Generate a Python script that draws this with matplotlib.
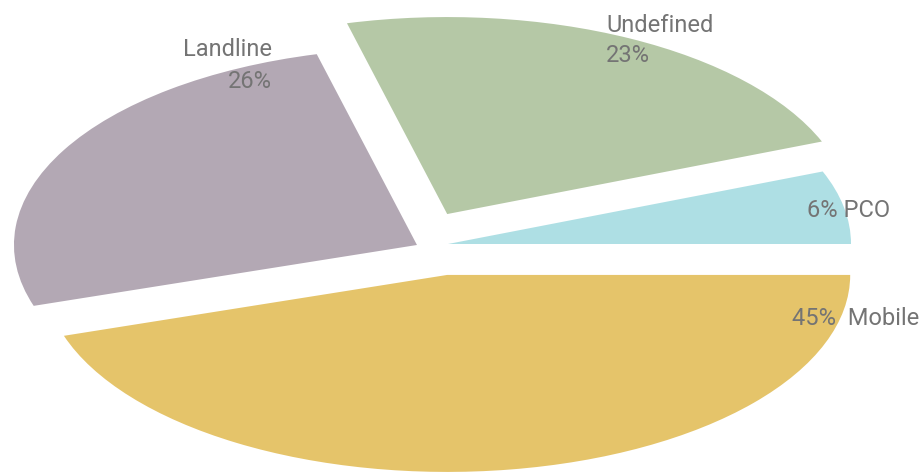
import matplotlib
matplotlib.use("Agg")
import matplotlib.pyplot as plt

# Data
categories = ["PCO", "Undefined", "Landline", "Mobile"]
values = [6, 23, 26, 45]
colors = ["#aedfe4", "#b5c8a6", "#b3a8b4", "#e5c46a"]

# per-wedge offsets (layout) in axis units
offsets = [(0.0, 0.0), (-0.002, 0.152), (-0.077, -0.005), (-0.002, -0.157)]

W, H = 921, 473
fig = plt.figure(figsize=(W / 100, H / 100), dpi=100)
ax = fig.add_axes([0, 0, 1, 1])

wedges, _ = ax.pie(values, colors=colors, startangle=0, counterclock=True,
                   radius=1.0, wedgeprops=dict(linewidth=0))
for w, off in zip(wedges, offsets):
    w.set_center(off)

# elliptical pie: x unit = 403 px, y unit = 197 px, origin at pixel (448, 244)
rx, ry, cx, cy = 403.0, 197.0, 448.0, 244.0
ax.set_aspect('auto')
ax.set_xlim((0 - cx) / rx, (W - cx) / rx)
ax.set_ylim((cy - H) / ry, (cy - 0) / ry)
ax.axis('off')

tc = "#747474"
fp = dict(family=["Roboto", "DejaVu Sans"], fontsize=17, color=tc, fontweight="normal")

def ptext(px, py, s, ha):
    fig.text(px / W, 1 - py / H, s, ha=ha, va="baseline", **fp)

d = dict(zip(categories, values))
ptext(606, 32, "Undefined", "left")
ptext(606, 62, f"{d['Undefined']}%", "left")
ptext(272, 56, "Landline", "right")
ptext(272, 88, f"{d['Landline']}%", "right")
ptext(807, 217, f"{d['PCO']}% PCO", "left")
ptext(792, 325, f"{d['Mobile']}%  Mobile", "left")

fig.savefig("out.png", dpi=100)
